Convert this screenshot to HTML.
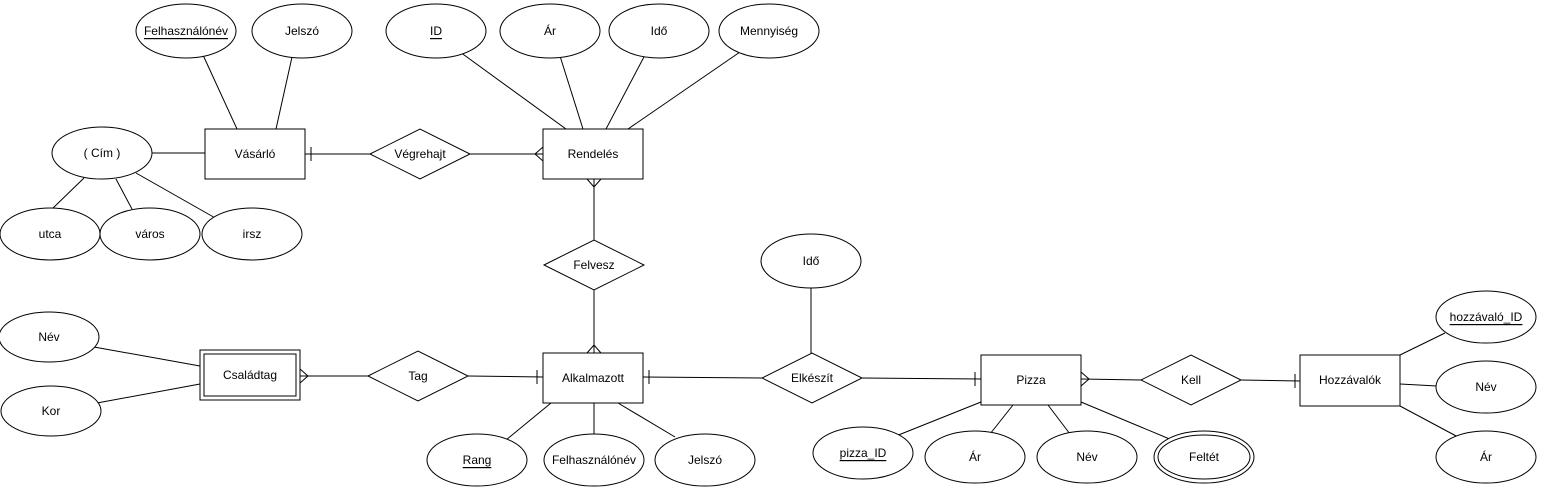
<!DOCTYPE html>
<html><head><meta charset="utf-8"><style>
html,body{margin:0;padding:0;background:#fff;}
svg{display:block;}
text{font-family:"Liberation Sans",sans-serif;font-size:12px;fill:#000;text-anchor:middle;dominant-baseline:central;}
</style></head><body>
<svg width="1542" height="493" viewBox="0 0 1542 493" xmlns="http://www.w3.org/2000/svg">
<g stroke="#000" stroke-width="1" fill="none">
<!-- attribute lines -->
<line x1="203" y1="55" x2="237" y2="129"/>
<line x1="292" y1="57" x2="276" y2="129"/>
<line x1="460" y1="52" x2="566" y2="129"/>
<line x1="560" y1="56" x2="583" y2="129"/>
<line x1="645" y1="55" x2="606" y2="129"/>
<line x1="740" y1="52" x2="628" y2="129"/>
<line x1="152" y1="153" x2="205" y2="153"/>
<line x1="84" y1="178" x2="52" y2="209"/>
<line x1="116" y1="179" x2="132" y2="209"/>
<line x1="136" y1="173" x2="217" y2="219"/>
<line x1="811" y1="288" x2="811" y2="354"/>
<line x1="94" y1="347" x2="200" y2="366"/>
<line x1="97" y1="403" x2="200" y2="384"/>
<line x1="551" y1="403" x2="506" y2="440"/>
<line x1="594" y1="403" x2="594" y2="435"/>
<line x1="618" y1="403" x2="675" y2="437"/>
<line x1="981" y1="402" x2="896" y2="436"/>
<line x1="1013" y1="405" x2="990" y2="434"/>
<line x1="1048" y1="405" x2="1070" y2="434"/>
<line x1="1081" y1="402" x2="1172" y2="440"/>
<line x1="1400" y1="355" x2="1445" y2="333"/>
<line x1="1400" y1="384" x2="1437" y2="386"/>
<line x1="1400" y1="406" x2="1458" y2="437"/>
<!-- relationship lines -->
<line x1="305" y1="154" x2="370" y2="154"/>
<line x1="311" y1="147" x2="311" y2="161"/>
<line x1="470" y1="154" x2="543" y2="154"/>
<polyline points="543,147 535,154 543,161"/>
<line x1="594" y1="179" x2="594" y2="240"/>
<polyline points="587,179 594,187 601,179"/>
<line x1="594" y1="290" x2="594" y2="353"/>
<polyline points="587,353 594,345 601,353"/>
<line x1="300" y1="376" x2="368" y2="376"/>
<polyline points="300,369 308,376 300,383"/>
<line x1="468" y1="376" x2="543" y2="377"/>
<line x1="537" y1="370" x2="537" y2="384"/>
<line x1="643" y1="377" x2="762" y2="378"/>
<line x1="649" y1="370" x2="649" y2="384"/>
<line x1="862" y1="378" x2="981" y2="379"/>
<line x1="975" y1="372" x2="975" y2="386"/>
<line x1="1081" y1="379" x2="1141" y2="380"/>
<polyline points="1081,372 1089,379 1081,386"/>
<line x1="1241" y1="380" x2="1300" y2="381"/>
<line x1="1295" y1="374" x2="1295" y2="388"/>
</g>
<g stroke="#000" stroke-width="1" fill="#fff">
<!-- ellipses -->
<ellipse cx="186" cy="31" rx="50" ry="27"/>
<ellipse cx="302" cy="31" rx="50" ry="27"/>
<ellipse cx="436" cy="31" rx="50" ry="27"/>
<ellipse cx="550" cy="31" rx="50" ry="27"/>
<ellipse cx="659" cy="31" rx="50" ry="27"/>
<ellipse cx="769" cy="31" rx="50" ry="27"/>
<ellipse cx="102" cy="153" rx="50" ry="26"/>
<ellipse cx="50" cy="234" rx="50" ry="26"/>
<ellipse cx="150" cy="234" rx="50" ry="26"/>
<ellipse cx="252" cy="234" rx="50" ry="26"/>
<ellipse cx="811" cy="261" rx="50" ry="27"/>
<ellipse cx="49" cy="337" rx="50" ry="25"/>
<ellipse cx="51" cy="411" rx="50" ry="25"/>
<ellipse cx="477" cy="460" rx="50" ry="26"/>
<ellipse cx="594" cy="460" rx="50" ry="26"/>
<ellipse cx="705" cy="460" rx="50" ry="26"/>
<ellipse cx="863" cy="453" rx="50" ry="26"/>
<ellipse cx="975" cy="457" rx="50" ry="26"/>
<ellipse cx="1087" cy="457" rx="50" ry="26"/>
<ellipse cx="1204" cy="457" rx="50" ry="26"/>
<ellipse cx="1204" cy="457" rx="46" ry="22"/>
<ellipse cx="1486" cy="317" rx="50" ry="26"/>
<ellipse cx="1486" cy="387" rx="50" ry="26"/>
<ellipse cx="1486" cy="457" rx="50" ry="26"/>
<!-- rects -->
<rect x="205" y="129" width="100" height="50"/>
<rect x="543" y="129" width="100" height="50"/>
<rect x="543" y="353" width="100" height="50"/>
<rect x="200" y="350" width="100" height="50"/>
<rect x="204" y="354" width="92" height="42"/>
<rect x="981" y="355" width="100" height="50"/>
<rect x="1300" y="355" width="100" height="51"/>
<!-- diamonds -->
<polygon points="370,154 420,129 470,154 420,179"/>
<polygon points="544,265 594,240 644,265 594,290"/>
<polygon points="368,376 418,351 468,376 418,401"/>
<polygon points="762,378 812,353 862,378 812,403"/>
<polygon points="1141,380 1191,355 1241,380 1191,405"/>
</g>
<g>
<text x="186" y="31" text-decoration="underline">Felhasználónév</text>
<text x="302" y="31">Jelszó</text>
<text x="436" y="31" text-decoration="underline">ID</text>
<text x="550" y="31">Ár</text>
<text x="659" y="31">Idő</text>
<text x="769" y="31">Mennyiség</text>
<text x="102" y="153">( Cím )</text>
<text x="50" y="234">utca</text>
<text x="150" y="234">város</text>
<text x="252" y="234">irsz</text>
<text x="811" y="261">Idő</text>
<text x="49" y="337">Név</text>
<text x="51" y="411">Kor</text>
<text x="477" y="460" text-decoration="underline">Rang</text>
<text x="594" y="460">Felhasználónév</text>
<text x="705" y="460">Jelszó</text>
<text x="863" y="453" text-decoration="underline">pizza_ID</text>
<text x="975" y="457">Ár</text>
<text x="1087" y="457">Név</text>
<text x="1204" y="457">Feltét</text>
<text x="1486" y="317" text-decoration="underline">hozzávaló_ID</text>
<text x="1486" y="387">Név</text>
<text x="1486" y="457">Ár</text>
<text x="255" y="154">Vásárló</text>
<text x="593" y="154">Rendelés</text>
<text x="593" y="378">Alkalmazott</text>
<text x="250" y="375">Családtag</text>
<text x="1031" y="380">Pizza</text>
<text x="1350" y="380">Hozzávalók</text>
<text x="420" y="154">Végrehajt</text>
<text x="594" y="265">Felvesz</text>
<text x="418" y="376">Tag</text>
<text x="812" y="378">Elkészít</text>
<text x="1191" y="380">Kell</text>
</g>
</svg>
</body></html>
